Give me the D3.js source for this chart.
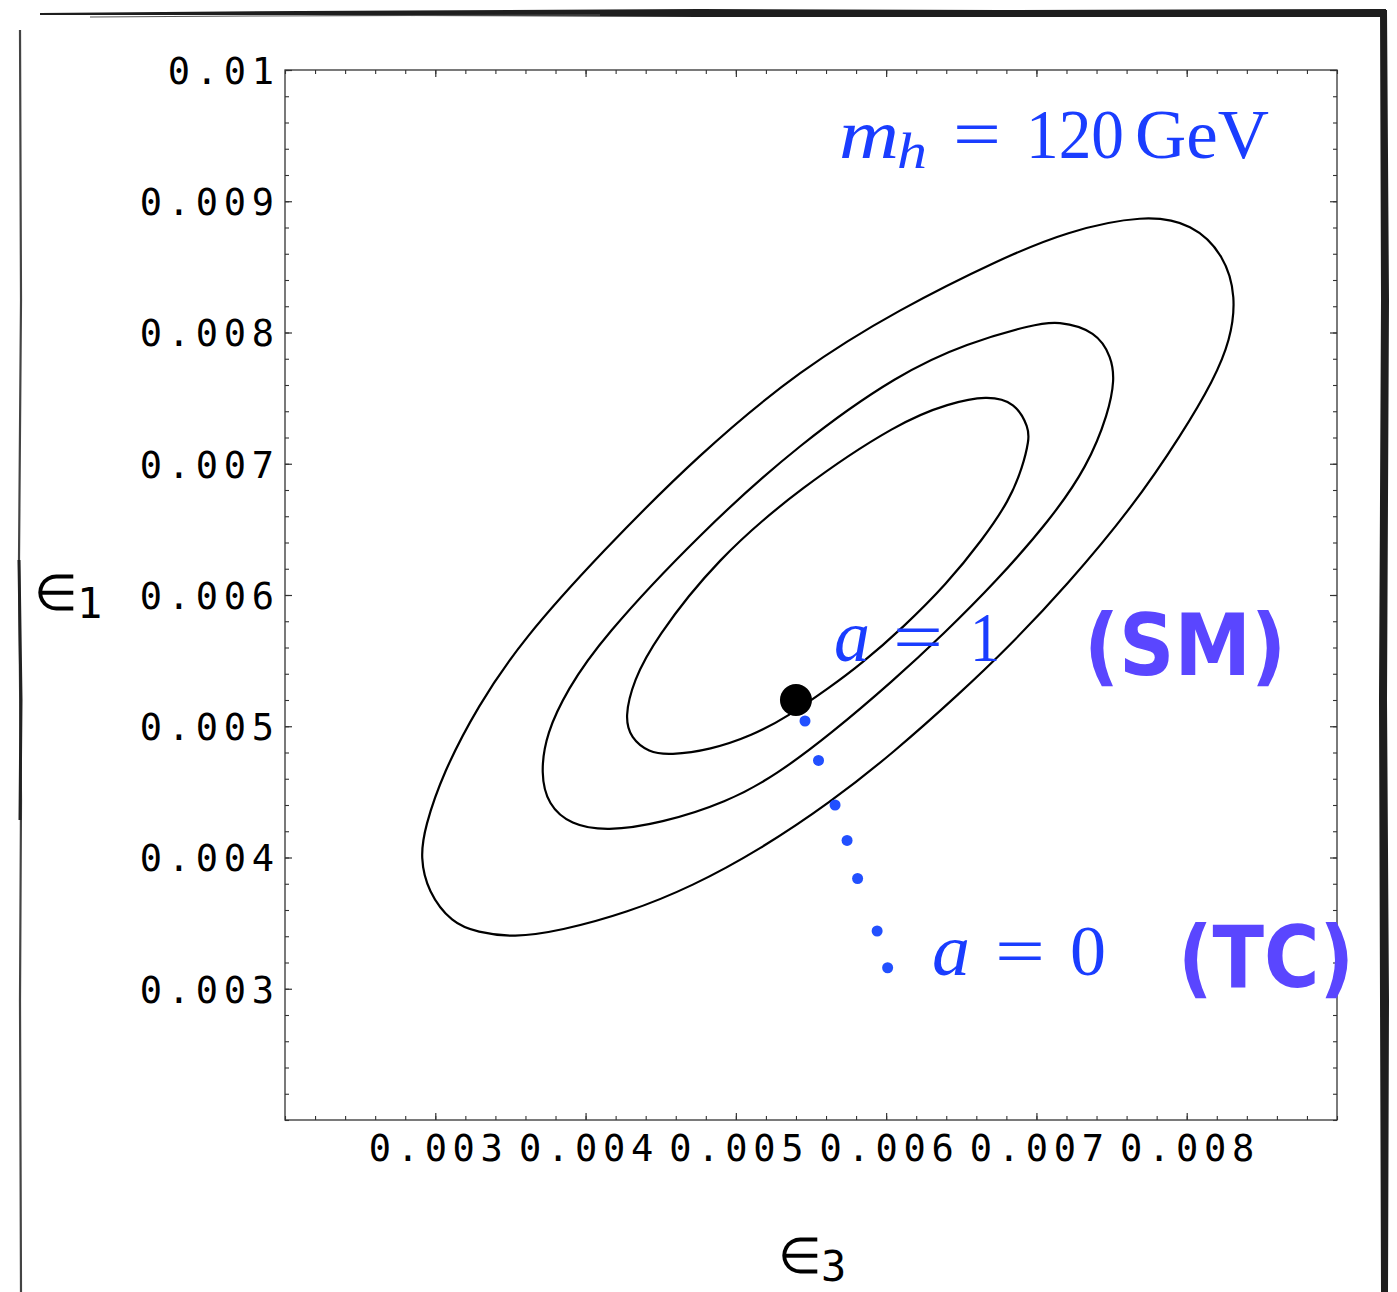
<!DOCTYPE html>
<html>
<head>
<meta charset="utf-8">
<title>epsilon1 vs epsilon3</title>
<style>
  body { margin: 0; background: #fff; }
  svg { display: block; }
</style>
</head>
<body>
<script src="https://cdn.jsdelivr.net/npm/d3@7"></script>
<script>
// ---- data ----
var xMajor = [0.003, 0.004, 0.005, 0.006, 0.007, 0.008];
var xLabels = ["0.003", "0.004", "0.005", "0.006", "0.007", "0.008"];
var yMajor = [0.003, 0.004, 0.005, 0.006, 0.007, 0.008, 0.009, 0.01];
var yLabels = ["0.003", "0.004", "0.005", "0.006", "0.007", "0.008", "0.009", "0.01"];

// contour lines, [eps3, eps1]
var contourInner = [
  [0.00426,0.00507],[0.00432,0.00535],[0.00446,0.00566],[0.00487,0.00627],[0.00543,0.00682],
  [0.00609,0.00732],[0.00642,0.00746],[0.00667,0.00752],[0.00686,0.00747],[0.00695,0.00727],
  [0.00695,0.00718],[0.00691,0.00698],[0.00682,0.00672],[0.00664,0.00642],[0.00640,0.00608],
  [0.00612,0.00576],[0.00583,0.00547],[0.00563,0.00530],[0.00534,0.00507],[0.00511,0.00493],
  [0.00483,0.00482],[0.00456,0.00478],[0.00442,0.00480],[0.00430,0.00491]
];
var contourMiddle = [
  [0.00370,0.00464],[0.00374,0.00495],[0.00388,0.00528],[0.00410,0.00566],[0.00476,0.00647],
  [0.00543,0.00716],[0.00609,0.00769],[0.00654,0.00792],[0.00698,0.00806],[0.00714,0.00809],
  [0.00740,0.00801],[0.00750,0.00781],[0.00752,0.00764],[0.00748,0.00739],[0.00734,0.00698],
  [0.00709,0.00657],[0.00673,0.00610],[0.00638,0.00570],[0.00605,0.00535],[0.00563,0.00494],
  [0.00527,0.00463],[0.00494,0.00442],[0.00450,0.00426],[0.00414,0.00420],[0.00390,0.00425],
  [0.00375,0.00440]
];
var contourOuter = [
  [0.00290,0.00400],[0.00293,0.00423],[0.00305,0.00464],[0.00328,0.00515],[0.00358,0.00566],
  [0.00410,0.00632],[0.00476,0.00708],[0.00543,0.00772],[0.00609,0.00818],[0.00676,0.00856],
  [0.00720,0.00877],[0.00772,0.00890],[0.00804,0.00883],[0.00825,0.00859],[0.00833,0.00827],
  [0.00829,0.00794],[0.00818,0.00764],[0.00797,0.00723],[0.00764,0.00667],[0.00720,0.00607],
  [0.00682,0.00561],[0.00649,0.00525],[0.00605,0.00480],[0.00563,0.00442],[0.00516,0.00406],
  [0.00471,0.00378],[0.00428,0.00358],[0.00383,0.00344],[0.00352,0.00339],[0.00328,0.00343],
  [0.00311,0.00350],[0.00295,0.00374]
];

var smPoint = [0.00540, 0.00520];
var aPath = [
  [0.00546,0.00504],[0.00555,0.00474],[0.00566,0.00440],[0.00574,0.00413],
  [0.00581,0.00384],[0.00594,0.00344],[0.00601,0.00316]
];

// ---- layout ----
var W = 1397, H = 1292;
var mL = 285, mR = 1337, mT = 70, mB = 1120;

var svg = d3.select("body").append("svg")
    .attr("width", W)
    .attr("height", H)
    .style("background", "#fff");

var x = d3.scaleLinear().domain([0.002, 0.009]).range([mL, mR]);
var y = d3.scaleLinear().domain([0.002, 0.01]).range([mB, mT]);

var minorX = d3.range(0.002, 0.00901, 0.0002);
var minorY = d3.range(0.002, 0.01001, 0.0002);

var mono = "'DejaVu Sans Mono', monospace";
var ls = 5.7; // letter spacing of tick labels

// ticks on all four sides, pointing inward
function sideTicks(makeAxis, tr, vals, size, sw) {
  var g = svg.append("g").attr("transform", tr)
      .call(makeAxis().tickValues(vals).tickSize(-size).tickFormat(""));
  g.select(".domain").remove();
  g.selectAll("line").attr("stroke", "#333").attr("stroke-width", sw);
}
[[minorX, minorY, 4, 1.1], [xMajor, yMajor, 7, 1.2]].forEach(function(s) {
  sideTicks(function() { return d3.axisBottom(x); }, "translate(0," + mB + ")", s[0], s[2], s[3]);
  sideTicks(function() { return d3.axisTop(x); }, "translate(0," + mT + ")", s[0], s[2], s[3]);
  sideTicks(function() { return d3.axisLeft(y); }, "translate(" + mL + ",0)", s[1], s[2], s[3]);
  sideTicks(function() { return d3.axisRight(y); }, "translate(" + mR + ",0)", s[1], s[2], s[3]);
});

// frame
svg.append("rect")
    .attr("x", mL).attr("y", mT)
    .attr("width", mR - mL).attr("height", mB - mT)
    .attr("fill", "none").attr("stroke", "#333").attr("stroke-width", 1.3);

// tick labels
var xl = svg.append("g").attr("transform", "translate(0," + mB + ")")
    .call(d3.axisBottom(x).tickValues(xMajor).tickSize(0).tickPadding(15)
      .tickFormat(function(d, i) { return xLabels[i]; }));
xl.select(".domain").remove();
xl.selectAll("text")
    .attr("font-family", mono).attr("font-size", 37).attr("fill", "#000")
    .attr("letter-spacing", ls).attr("dx", ls / 2);

var yl = svg.append("g").attr("transform", "translate(" + mL + ",0)")
    .call(d3.axisLeft(y).tickValues(yMajor).tickSize(0).tickPadding(13)
      .tickFormat(function(d, i) { return yLabels[i]; }));
yl.select(".domain").remove();
yl.selectAll("text")
    .attr("font-family", mono).attr("font-size", 37).attr("fill", "#000")
    .attr("letter-spacing", ls).attr("dx", ls + 2).attr("dy", "0.36em");

// axis titles
function epsLabel(px, py, sub) {
  var t = svg.append("text").attr("x", px).attr("y", py).attr("fill", "#000");
  t.append("tspan").attr("font-family", "'DejaVu Sans', sans-serif").attr("font-size", 50)
      .attr("font-weight", 300).text("\u2208");
  t.append("tspan").attr("font-family", mono).attr("font-size", 42).attr("dx", -1).attr("dy", 8).text(sub);
}
epsLabel(34, 610, "1");
epsLabel(778, 1273, "3");

// contours
var line = d3.line()
    .x(function(d) { return x(d[0]); })
    .y(function(d) { return y(d[1]); })
    .curve(d3.curveBasisClosed);

svg.append("g").selectAll("path")
    .data([contourOuter, contourMiddle, contourInner])
    .join("path")
    .attr("d", line)
    .attr("fill", "none")
    .attr("stroke", "#000")
    .attr("stroke-width", 2.2);

// a from 1 to 0
svg.append("g").selectAll("circle")
    .data(aPath)
    .join("circle")
    .attr("cx", function(d) { return x(d[0]); })
    .attr("cy", function(d) { return y(d[1]); })
    .attr("r", 5.5)
    .attr("fill", "#2250ff");

svg.append("circle")
    .attr("cx", x(smPoint[0])).attr("cy", y(smPoint[1]))
    .attr("r", 16).attr("fill", "#000");

// annotations
var blue = "#1a3dff";
var serif = "'Liberation Serif', 'DejaVu Serif', serif";
function piece(px, py, txt, size, italic, len) {
  var t = svg.append("text")
      .attr("x", px).attr("y", py)
      .attr("font-family", serif).attr("font-size", size)
      .attr("fill", blue).text(txt);
  if (italic) t.attr("font-style", "italic");
  if (len) t.attr("textLength", len).attr("lengthAdjust", "spacingAndGlyphs");
  return t;
}
piece(839, 158, "m", 70, true, 60);
piece(897, 168, "h", 50, true, 30);
piece(953, 158, "=", 70, false, 48);
piece(1026, 158, "120", 70, false, 98);
piece(1135, 158, "GeV", 70, false, 134);

piece(834, 661, "a", 74, true, 36);
piece(893, 661, "=", 70, false, 50);
piece(970, 661, "1", 70, false, 30);

piece(932, 975, "a", 74, true, 38);
piece(995, 975, "=", 70, false, 50);
piece(1070, 975, "0", 72, false, 36);

var purple = "#5a46ff";
function tag(px, py, txt, len) {
  svg.append("text")
      .attr("x", px).attr("y", py)
      .attr("font-family", "'DejaVu Sans', sans-serif").attr("font-weight", "bold")
      .attr("font-size", 86)
      .attr("fill", purple)
      .attr("textLength", len).attr("lengthAdjust", "spacingAndGlyphs")
      .text(txt);
}
tag(1084, 675, "(SM)", 202);
tag(1178, 987, "(TC)", 176);

// sketchy outer border
var ink = "#1e1e1e";
svg.append("path")
    .attr("d", "M40,13 L300,11 L700,9 L1000,10 L1386,9 L1386,17 L1000,17 L700,17 L400,16 L300,15 L40,15 Z")
    .attr("fill", ink);
svg.append("path")
    .attr("d", "M90,17 L250,16 L600,15")
    .attr("fill", "none").attr("stroke", "#555").attr("stroke-width", 1.2);
svg.append("path")
    .attr("d", "M1380,10 L1387,10 L1389,300 L1387,700 L1389,1000 L1388,1292 L1381,1292 L1380,1000 L1379,700 L1381,300 Z")
    .attr("fill", ink);
svg.append("path")
    .attr("d", "M20,30 L21,300 L19,560 L21,800 L20,1000 L21,1292")
    .attr("fill", "none").attr("stroke", "#444").attr("stroke-width", 2.2);
svg.append("path")
    .attr("d", "M19,560 L21,700 L20,820")
    .attr("fill", "none").attr("stroke", "#222").attr("stroke-width", 3);
</script>
</body>
</html>
